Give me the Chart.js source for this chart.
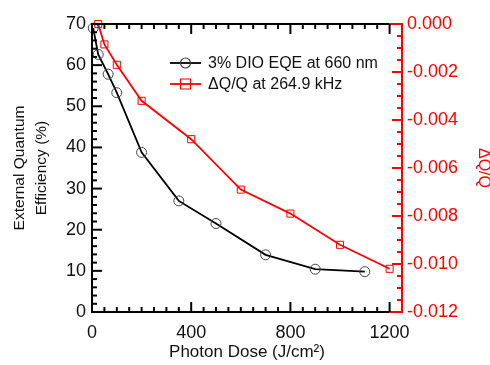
<!DOCTYPE html>
<html>
<head>
<meta charset="utf-8">
<script src="https://cdn.jsdelivr.net/npm/chart.js@4"></script>
<style>
  html, body { margin: 0; padding: 0; background: #fff; }
  #wrap { width: 490px; height: 365px; }
</style>
</head>
<body>
<div id="wrap"><canvas id="doseChart"></canvas></div>
<script>
// data
const eqeDose = [5, 25, 65, 100, 200, 350, 500, 700, 900, 1100];
const eqeValues = [69.0, 62.6, 57.8, 53.3, 38.8, 27.0, 21.5, 13.9, 10.4, 9.8];
const dqDose = [25, 50, 100, 200, 400, 600, 800, 1000, 1200];
const dqValues = [0.0, -0.00085, -0.0017, -0.0032, -0.0048, -0.0069, -0.0079, -0.0092, -0.0102];

const doseTicks = [0, 400, 800, 1200];
const eqeTicks = [0, 10, 20, 30, 40, 50, 60, 70];
const dqTicks = [-0.012, -0.010, -0.008, -0.006, -0.004, -0.002, 0.0];

const legendLabels = ["3% DIO EQE at 660 nm", "\u0394Q/Q at 264.9 kHz"];

const FONT = "'Liberation Sans', Arial, sans-serif";
const RED = "#ff0000";

const toPoints = (xs, ys) => xs.map((x, i) => ({ x: x, y: ys[i] }));

// frame + inward ticks, drawn off the chart's own scales
const frameTicks = {
  id: "frameTicks",
  afterDatasetsDraw(chart) {
    const { ctx, chartArea: a, scales } = chart;
    const x = scales.x, yl = scales.yEqe, yr = scales.yDq;
    const x1200 = x.getPixelForValue(1200);
    ctx.save();
    ctx.lineWidth = 2;
    ctx.lineCap = "butt";

    const line = (x0, y0, x1, y1, c) => {
      ctx.strokeStyle = c;
      ctx.beginPath();
      ctx.moveTo(x0, y0);
      ctx.lineTo(x1, y1);
      ctx.stroke();
    };

    // box
    line(a.left, a.top, x1200, a.top, "#000");
    line(a.left, a.bottom, x1200, a.bottom, "#000");
    line(x1200, a.top, a.right, a.top, RED);
    line(x1200, a.bottom, a.right, a.bottom, RED);
    line(a.left, a.top - 1, a.left, a.bottom + 1, "#000");
    line(a.right, a.top - 1, a.right, a.bottom + 1, RED);

    // x ticks every 50, major every 400 (bottom and top)
    for (let i = 0; i <= 24; i++) {
      const px = x.getPixelForValue(i * 50);
      const len = i % 8 === 0 ? 10 : 5;
      line(px, a.bottom, px, a.bottom - len, "#000");
      line(px, a.top, px, a.top + len, "#000");
    }
    // left ticks every 2, major every 10
    for (let i = 0; i <= 35; i++) {
      const py = yl.getPixelForValue(i * 2);
      const len = i % 5 === 0 ? 10 : 5;
      line(a.left, py, a.left + len, py, "#000");
    }
    // right ticks every 0.0005, major every 0.002
    for (let i = 0; i <= 24; i++) {
      const py = yr.getPixelForValue(-i * 0.0005);
      const len = i % 4 === 0 ? 10 : 5;
      line(a.right, py, a.right - len, py, RED);
    }
    ctx.restore();
  }
};

// legend inside the plot, styled from the datasets
const innerLegend = {
  id: "innerLegend",
  afterDraw(chart) {
    const { ctx } = chart;
    const rows = [63, 84];
    ctx.save();
    chart.data.datasets.forEach((ds, i) => {
      const y = rows[i];
      ctx.strokeStyle = ds.borderColor;
      ctx.lineWidth = ds.borderWidth;
      ctx.beginPath();
      ctx.moveTo(170, y);
      ctx.lineTo(201, y);
      ctx.stroke();
      ctx.lineWidth = 1.2;
      ctx.strokeStyle = ds.pointBorderColor;
      ctx.beginPath();
      if (ds.pointStyle === "circle") {
        ctx.arc(185.5, y, ds.pointRadius, 0, Math.PI * 2);
      } else {
        ctx.rect(185.5 - ds.pointRadius, y - ds.pointRadius, ds.pointRadius * 2, ds.pointRadius * 2);
      }
      ctx.stroke();
      ctx.fillStyle = "#111";
      ctx.font = "16px " + FONT;
      ctx.textBaseline = "middle";
      ctx.textAlign = "left";
      ctx.fillText(legendLabels[i], 208, y + 1);
    });
    ctx.restore();
  }
};

new Chart(document.getElementById("doseChart"), {
  type: "line",
  data: {
    datasets: [
      {
        label: legendLabels[0],
        data: toPoints(eqeDose, eqeValues),
        yAxisID: "yEqe",
        borderColor: "#000",
        borderWidth: 1.8,
        pointStyle: "circle",
        pointRadius: 5,
        pointBorderWidth: 1,
        pointBorderColor: "#444",
        pointBackgroundColor: "rgba(0,0,0,0)",
        tension: 0,
        clip: false
      },
      {
        label: legendLabels[1],
        data: toPoints(dqDose, dqValues),
        yAxisID: "yDq",
        borderColor: RED,
        borderWidth: 1.8,
        pointStyle: "rect",
        pointRadius: 5,
        pointBorderWidth: 1,
        pointBorderColor: RED,
        pointBackgroundColor: "rgba(0,0,0,0)",
        tension: 0,
        clip: false
      }
    ]
  },
  options: {
    responsive: true,
    maintainAspectRatio: false,
    animation: false,
    layout: { padding: { top: 24, left: 0, right: 0, bottom: 0 } },
    plugins: {
      legend: { display: false },
      tooltip: { enabled: false }
    },
    scales: {
      x: {
        type: "linear",
        min: 0,
        max: 1250,
        grid: { display: false, drawTicks: false },
        border: { display: false },
        afterBuildTicks: (s) => { s.ticks = doseTicks.map((v) => ({ value: v })); },
        afterFit: (s) => { s.height = 53; },
        ticks: {
          padding: 10,
          maxRotation: 0,
          autoSkip: false,
          color: "#111",
          font: { family: FONT, size: 18 },
          callback: (v) => String(v)
        },
        title: {
          display: true,
          text: "Photon Dose (J/cm\u00b2)",
          color: "#111",
          padding: { top: 0, bottom: 2 },
          font: { family: FONT, size: 17 }
        }
      },
      yEqe: {
        type: "linear",
        position: "left",
        min: 0,
        max: 70,
        grid: { display: false, drawTicks: false },
        border: { display: false },
        afterBuildTicks: (s) => { s.ticks = eqeTicks.map((v) => ({ value: v })); },
        afterFit: (s) => { s.width = 92; },
        ticks: {
          padding: 6,
          autoSkip: false,
          color: "#111",
          font: { family: FONT, size: 18 },
          callback: (v) => String(v)
        },
        title: {
          display: true,
          text: ["External Quantum", "Efficiency (%)"],
          color: "#111",
          padding: { top: 9, bottom: 0 },
          font: { family: FONT, size: 15.5, lineHeight: 1.42 }
        }
      },
      yDq: {
        type: "linear",
        position: "right",
        min: -0.012,
        max: 0,
        grid: { display: false, drawTicks: false },
        border: { display: false },
        afterBuildTicks: (s) => { s.ticks = dqTicks.map((v) => ({ value: v })); },
        afterFit: (s) => { s.width = 88; },
        ticks: {
          padding: 5,
          autoSkip: false,
          crossAlign: "near",
          color: RED,
          font: { family: FONT, size: 18 },
          callback: (v) => Number(v).toFixed(3)
        },
        title: {
          display: true,
          text: "\u0394Q/Q",
          color: RED,
          padding: { top: -3, bottom: 0 },
          font: { family: FONT, size: 16 }
        }
      }
    }
  },
  plugins: [frameTicks, innerLegend]
});
</script>
</body>
</html>
